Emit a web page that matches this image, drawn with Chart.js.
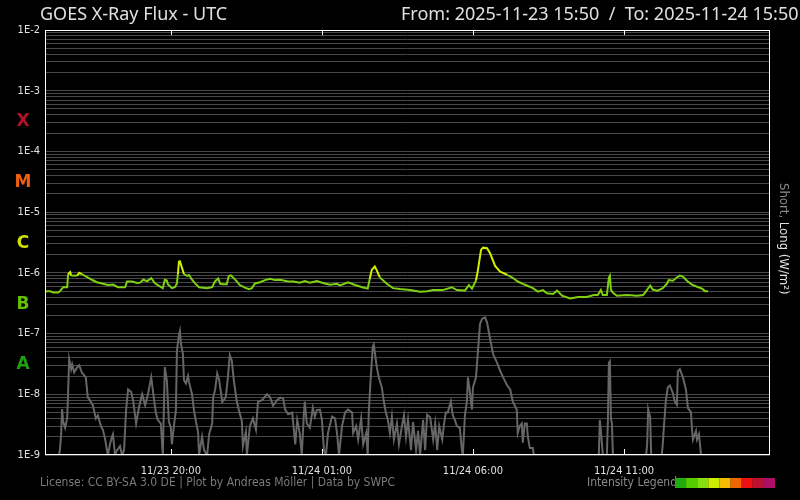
<!DOCTYPE html>
<html>
<head>
<meta charset="utf-8">
<title>GOES X-Ray Flux</title>
<script src="https://cdn.jsdelivr.net/npm/chart.js@4.4.1/dist/chart.umd.min.js"></script>
<style>
  html, body { margin: 0; padding: 0; background: #000; }
  #wrap { width: 800px; height: 500px; position: relative; }
</style>
</head>
<body>
<div id="wrap"><canvas id="xray"></canvas></div>
<script>
// Time is minutes since 2025-11-23 15:50 UTC
const longTime = [0, 10, 16, 26, 30, 36, 44, 46, 50, 52, 64, 68, 73, 83, 93, 103, 115, 125, 135, 145,
  159, 163, 173, 183, 189, 195, 203, 211, 218, 224, 234, 238, 242, 244, 252, 258, 262, 264, 266, 268,
  272, 276, 282, 286, 292, 298, 306, 322, 332, 338, 344, 348, 354, 361, 365, 369, 377, 387, 397, 405,
  411, 417, 427, 437, 447, 457, 467, 481, 493, 506, 516, 526, 540, 552, 566, 580, 586, 602, 616, 630,
  641, 645, 649, 655, 659, 665, 679, 691, 705, 725, 745, 759, 771, 790, 808, 818, 834, 842, 848, 856,
  860, 866, 870, 878, 884, 894, 904, 918, 929, 939, 949, 957, 969, 979, 989, 997, 1009, 1017, 1027, 1043,
  1059, 1076, 1090, 1098, 1104, 1108, 1116, 1120, 1122, 1124, 1128, 1136, 1156, 1176, 1188, 1194, 1202, 1207, 1217, 1227,
  1235, 1239, 1247, 1255, 1261, 1267, 1275, 1285, 1295, 1305, 1311, 1317];
const longFlux = [5.0e-7, 5.0e-7, 4.75e-7, 4.75e-7, 5.0e-7, 5.8e-7, 5.8e-7, 9.6e-7, 1.03e-6, 9.0e-7, 9.0e-7, 1.0e-6, 9.5e-7, 8.6e-7, 7.7e-7, 7.0e-7, 6.6e-7, 6.3e-7, 6.4e-7, 5.8e-7,
  5.8e-7, 7.2e-7, 7.2e-7, 6.8e-7, 6.9e-7, 7.7e-7, 7.3e-7, 8.2e-7, 6.8e-7, 6.3e-7, 5.6e-7, 7.7e-7, 7.5e-7, 6.5e-7, 5.6e-7, 5.8e-7, 6.7e-7, 9.5e-7, 1.53e-6, 1.55e-6,
  1.22e-6, 9.5e-7, 8.9e-7, 9.2e-7, 7.7e-7, 6.7e-7, 5.8e-7, 5.6e-7, 5.8e-7, 7.3e-7, 8.1e-7, 6.6e-7, 6.5e-7, 6.5e-7, 8.9e-7, 9.1e-7, 7.9e-7, 6.3e-7, 5.7e-7, 5.4e-7,
  5.6e-7, 6.7e-7, 7.0e-7, 7.6e-7, 8.0e-7, 7.6e-7, 7.7e-7, 7.3e-7, 7.2e-7, 6.9e-7, 7.3e-7, 6.9e-7, 7.3e-7, 6.8e-7, 6.4e-7, 6.6e-7, 6.2e-7, 7.0e-7, 6.3e-7, 5.8e-7,
  5.5e-7, 7.9e-7, 1.12e-6, 1.27e-6, 1.1e-6, 8.4e-7, 6.6e-7, 5.6e-7, 5.4e-7, 5.2e-7, 4.9e-7, 5.0e-7, 5.2e-7, 5.2e-7, 5.8e-7, 5.2e-7, 5.1e-7, 6.3e-7, 5.5e-7, 7.5e-7,
  1.12e-6, 2.39e-6, 2.6e-6, 2.55e-6, 2.1e-6, 1.3e-6, 1.05e-6, 9.3e-7, 8.3e-7, 7.2e-7, 6.6e-7, 6.2e-7, 5.6e-7, 4.9e-7, 5.2e-7, 4.6e-7, 4.5e-7, 5.1e-7, 4.2e-7, 3.8e-7,
  4.0e-7, 4.0e-7, 4.3e-7, 4.3e-7, 5.2e-7, 4.3e-7, 4.3e-7, 8.4e-7, 9.0e-7, 5.3e-7, 4.7e-7, 4.2e-7, 4.3e-7, 4.2e-7, 4.3e-7, 5.0e-7, 6.2e-7, 5.3e-7, 5.1e-7, 5.6e-7,
  6.6e-7, 7.6e-7, 7.4e-7, 8.4e-7, 9.0e-7, 8.7e-7, 7.4e-7, 6.4e-7, 5.9e-7, 5.5e-7, 5.0e-7, 5.0e-7];

const shortTime = [0, 28, 30, 32, 34, 36, 40, 44, 46, 48, 52, 54, 58, 64, 68, 73, 81, 85, 89, 95,
  101, 105, 111, 115, 119, 123, 125, 129, 133, 135, 139, 143, 149, 153, 157, 161, 165, 171, 175, 181,
  187, 193, 199, 205, 211, 214, 220, 224, 230, 234, 238, 242, 246, 250, 252, 256, 260, 262, 266, 268,
  270, 274, 276, 280, 284, 286, 292, 296, 300, 304, 306, 312, 316, 322, 326, 332, 334, 338, 342, 346,
  352, 355, 359, 363, 367, 371, 375, 381, 385, 391, 393, 399, 401, 407, 413, 419, 423, 431, 441, 447,
  453, 461, 467, 473, 477, 483, 491, 497, 501, 506, 510, 514, 516, 520, 526, 532, 536, 540, 546, 550,
  554, 558, 562, 570, 576, 580, 584, 590, 596, 602, 610, 612, 618, 622, 628, 632, 638, 641, 643, 647,
  651, 653, 659, 663, 669, 673, 677, 681, 685, 689, 693, 699, 703, 709, 713, 717, 721, 727, 731, 737,
  741, 745, 751, 755, 759, 765, 771, 775, 779, 783, 789, 792, 796, 800, 806, 810, 814, 818, 824, 828,
  830, 834, 838, 840, 844, 848, 850, 856, 860, 864, 868, 874, 878, 884, 890, 898, 904, 910, 918, 924,
  929, 937, 939, 943, 947, 949, 953, 957, 959, 963, 969, 971, 1100, 1102, 1104, 1108, 1116, 1118, 1120, 1122,
  1124, 1126, 1128, 1194, 1196, 1198, 1202, 1204, 1225, 1227, 1229, 1233, 1237, 1241, 1247, 1251, 1255, 1257, 1261, 1267,
  1273, 1277, 1283, 1285, 1287, 1293, 1295, 1299, 1303, 1317];
const shortFlux = [1e-9, 1e-9, 1.3e-9, 2.2e-9, 5.7e-9, 3.6e-9, 2.8e-9, 4.0e-9, 1.14e-8, 3.8e-8, 2.6e-8, 3.1e-8, 2.3e-8, 2.8e-8, 3.0e-8, 2.3e-8, 1.9e-8, 8.9e-9, 8e-9, 6.6e-9,
  4e-9, 4.5e-9, 3e-9, 2.6e-9, 1.9e-9, 1.2e-9, 1e-9, 1.5e-9, 2e-9, 2.2e-9, 1e-9, 1.2e-9, 1.4e-9, 1e-9, 1.2e-9, 5.4e-9, 1.2e-8, 1.1e-8, 8e-9, 3.3e-9,
  6.3e-9, 1e-8, 6.6e-9, 1.05e-8, 1.9e-8, 1.2e-8, 5e-9, 3.8e-9, 3.3e-9, 1e-9, 2.8e-8, 1.7e-8, 3.6e-9, 2.8e-9, 1.5e-9, 3e-9, 5.5e-9, 5.2e-8, 9.3e-8, 1.1e-7,
  6.8e-8, 4.6e-8, 1.7e-8, 1.5e-8, 2e-8, 1.6e-8, 1e-8, 5.4e-9, 3.5e-9, 2.4e-9, 1e-9, 2e-9, 1.2e-9, 1e-9, 2.2e-9, 3.3e-9, 8.9e-9, 1.2e-8, 2.2e-8, 1.7e-8,
  7.5e-9, 8e-9, 9e-9, 1.8e-8, 4.4e-8, 3.6e-8, 1.7e-8, 7.6e-9, 5.5e-9, 3.6e-9, 1.4e-9, 2.4e-9, 1e-9, 3e-9, 4e-9, 2.6e-9, 7.5e-9, 8e-9, 1e-8, 9e-9,
  6.5e-9, 8e-9, 8.8e-9, 8.5e-9, 5.6e-9, 4.7e-9, 5e-9, 1.5e-9, 3.8e-9, 2.3e-9, 1e-9, 4.5e-9, 7.6e-9, 3.3e-9, 2.8e-9, 6e-9, 4.3e-9, 5.5e-9, 5.6e-9, 3.8e-9,
  1.2e-9, 1e-9, 2.3e-9, 4.3e-9, 4e-9, 2.3e-9, 1e-9, 3e-9, 5e-9, 5.6e-9, 5e-9, 2.3e-9, 3e-9, 1.8e-9, 4e-9, 1.5e-9, 2.3e-9, 1e-9, 5e-9, 1.9e-8,
  6.1e-8, 6.6e-8, 2.8e-8, 1.9e-8, 1.3e-8, 7.6e-9, 5e-9, 3.8e-9, 2.3e-9, 4.3e-9, 1.8e-9, 3.3e-9, 1.5e-9, 3e-9, 4.5e-9, 2e-9, 3.8e-9, 1.2e-9, 3.5e-9, 1.2e-9,
  2.5e-9, 1e-9, 3.8e-9, 1.2e-9, 4.6e-9, 4.2e-9, 1.8e-9, 3.3e-9, 1.2e-9, 3e-9, 1.8e-9, 3e-9, 5e-9, 5e-9, 7.6e-9, 4.5e-9, 3.8e-9, 3e-9, 2.8e-9, 1.2e-9,
  1e-9, 4.5e-9, 7.6e-9, 1.9e-8, 1.1e-8, 5.6e-9, 1.3e-8, 1.9e-8, 5.2e-8, 1.44e-7, 1.74e-7, 1.85e-7, 1.53e-7, 8.2e-8, 4.6e-8, 3.3e-8, 2.44e-8, 1.9e-8, 1.4e-8, 1.2e-8,
  7.6e-9, 5.6e-9, 2.3e-9, 3e-9, 3.3e-9, 1.6e-9, 3.3e-9, 3.3e-9, 2e-9, 1.3e-9, 1.3e-9, 1e-9, 1e-9, 3.8e-9, 2.6e-9, 1e-9, 1e-9, 3.6e-9, 3.3e-8, 3.5e-8,
  4e-9, 3.3e-9, 1e-9, 1e-9, 1.5e-9, 5.7e-9, 4.2e-9, 1e-9, 1e-9, 1.5e-9, 2.7e-9, 7.6e-9, 1.3e-8, 1.4e-8, 1.05e-8, 7.6e-9, 6.7e-9, 2.4e-8, 2.6e-8, 1.9e-8,
  1.2e-8, 5.9e-9, 5.1e-9, 2.7e-9, 1.8e-9, 2.5e-9, 1.8e-9, 2.2e-9, 1e-9, 1e-9];

// Axis ticks
const timeTicks = [250, 550, 850, 1150];
const timeTickLabels = ['11/23 20:00', '11/24 01:00', '11/24 06:00', '11/24 11:00'];
const decadeTicks = [1e-2, 1e-3, 1e-4, 1e-5, 1e-6, 1e-7, 1e-8, 1e-9];
const decadeLabels = ['1E-2', '1E-3', '1E-4', '1E-5', '1E-6', '1E-7', '1E-8', '1E-9'];

// Flare classes (lower threshold of each class)
const flareClasses = ['X', 'M', 'C', 'B', 'A'];
const classThresholds = [1e-4, 1e-5, 1e-6, 1e-7, 1e-8];
const classColors = ['#b3102a', '#f0600e', '#cde000', '#66c000', '#1ea010'];

const legendColors = ['#22aa11', '#55cc00', '#88dd11', '#ccee00', '#f5bb00', '#ee6600', '#ee1111', '#bb1133', '#aa1166'];

const smallFont = '"DejaVu Sans Condensed", "Liberation Sans Narrow", "Liberation Sans", sans-serif';

// Minor grid lines: 1..9 in every decade
const gridTicks = [];
decadeTicks.slice(1).forEach(d => {
    for (let m = 1; m <= 9; m++) gridTicks.push(m * d);
});
gridTicks.push(decadeTicks[0]);

const decorations = {
    id: 'decorations',
    afterDatasetsDraw(chart) {
        const { ctx, chartArea: a, scales } = chart;
        ctx.save();

        // white frame + time tick marks
        ctx.strokeStyle = '#ffffff';
        ctx.lineWidth = 1;
        ctx.strokeRect(a.left + 0.5, a.top + 0.5, a.right - a.left - 1, a.bottom - a.top - 1);
        timeTicks.forEach(t => {
            const x = Math.round(scales.x.getPixelForValue(t)) + 0.5;
            ctx.beginPath();
            ctx.moveTo(x, a.top);
            ctx.lineTo(x, a.top + 5);
            ctx.moveTo(x, a.bottom);
            ctx.lineTo(x, a.bottom - 6);
            ctx.stroke();
        });

        // flare class letters
        ctx.font = 'bold 17px "DejaVu Sans", sans-serif';
        ctx.textAlign = 'center';
        ctx.textBaseline = 'middle';
        flareClasses.forEach((c, i) => {
            const y = scales.y.getPixelForValue(classThresholds[i] * Math.sqrt(10));
            ctx.fillStyle = classColors[i];
            ctx.fillText(c, 23, y + 1);
        });

        // titles
        ctx.textAlign = 'left';
        ctx.textBaseline = 'alphabetic';
        ctx.font = '18px "Noto Sans", sans-serif';
        ctx.fillStyle = '#e0e0e0';
        ctx.fillText('GOES X-Ray Flux - UTC', 40, 20);
        ctx.fillText('From: 2025-11-23 15:50  /  To: 2025-11-24 15:50', 401, 20);

        // right axis title
        ctx.save();
        ctx.translate(780, 183);
        ctx.rotate(Math.PI / 2);
        ctx.font = '13px ' + smallFont;
        ctx.fillStyle = '#8a8a8a';
        ctx.fillText('Short, ', 0, 0);
        const w = ctx.measureText('Short, ').width;
        ctx.fillStyle = '#e0e0e0';
        ctx.fillText('Long (W/m²)', w, 0);
        ctx.restore();

        // footer
        ctx.font = '12px ' + smallFont;
        ctx.fillStyle = '#7a7a7a';
        ctx.fillText('License: CC BY-SA 3.0 DE | Plot by Andreas Möller | Data by SWPC', 40, 486);
        ctx.fillStyle = '#8a8a8a';
        ctx.fillText('Intensity Legend', 587, 486);
        legendColors.forEach((c, i) => {
            ctx.fillStyle = c;
            ctx.fillRect(675 + i * 11.1, 478, 11.2, 10);
        });

        ctx.restore();
    }
};

const ctx = document.getElementById('xray').getContext('2d');
new Chart(ctx, {
    type: 'line',
    data: {
        datasets: [{
            label: 'Short',
            data: shortTime.map((t, i) => ({ x: t, y: shortFlux[i] })),
            borderColor: '#666666',
            borderWidth: 2,
            pointRadius: 0,
            tension: 0
        }, {
            label: 'Long',
            data: longTime.map((t, i) => ({ x: t, y: longFlux[i] })),
            borderColor: '#7fd010',
            borderWidth: 2,
            pointRadius: 0,
            tension: 0,
            segment: {
                borderColor: c => (c.p0.parsed.y >= 1e-6 || c.p1.parsed.y >= 1e-6) ? '#d4f000' : '#7fd010'
            }
        }]
    },
    options: {
        responsive: true,
        maintainAspectRatio: false,
        animation: false,
        layout: { padding: { top: 30, right: 30, left: 0, bottom: 0 } },
        plugins: {
            legend: { display: false },
            tooltip: { enabled: false }
        },
        scales: {
            x: {
                type: 'linear',
                min: 0,
                max: 1440,
                afterBuildTicks: s => { s.ticks = timeTicks.map(v => ({ value: v })); },
                afterFit: s => { s.height = 45; },
                grid: { display: false },
                border: { display: false },
                ticks: {
                    autoSkip: false,
                    maxRotation: 0,
                    padding: 2,
                    color: '#e0e0e0',
                    font: { family: smallFont, size: 11 },
                    callback: (v) => timeTickLabels[timeTicks.indexOf(v)]
                }
            },
            y: {
                type: 'logarithmic',
                min: 1e-9,
                max: 1e-2,
                afterBuildTicks: s => { s.ticks = gridTicks.map(v => ({ value: v })); },
                afterFit: s => { s.width = 45; },
                grid: { color: '#484848', lineWidth: 1, drawTicks: false },
                border: { display: false },
                ticks: {
                    autoSkip: false,
                    padding: 5,
                    color: '#e0e0e0',
                    font: { family: smallFont, size: 11 },
                    callback: (v) => {
                        const i = decadeTicks.findIndex(d => Math.abs(d - v) / d < 1e-6);
                        return i >= 0 ? decadeLabels[i] : '';
                    }
                }
            }
        }
    },
    plugins: [decorations]
});
</script>
</body>
</html>
